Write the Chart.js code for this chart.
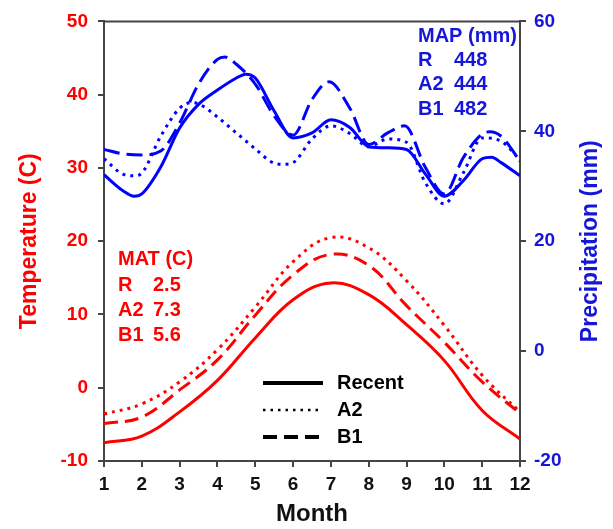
<!DOCTYPE html>
<html>
<head>
<meta charset="utf-8">
<script src="https://cdn.jsdelivr.net/npm/chart.js@4.4.0/dist/chart.umd.min.js"></script>
<style>
  html, body { margin: 0; padding: 0; background: #fff; }
</style>
</head>
<body>
<canvas id="climateChart" width="613" height="529"></canvas>
<script>
// temperature (C), monthly
const tempMonths = [1, 2, 3, 4, 5, 6, 7, 8, 9, 10, 11, 12];
const tempRecent = [-7.5, -6.6, -3.3, 1.0, 6.8, 12.0, 14.3, 12.7, 8.6, 3.7, -3.1, -7.0];
const tempA2 = [-3.6, -2.2, 0.8, 5.2, 11.0, 17.2, 20.5, 19.1, 14.6, 8.5, 1.7, -3.3];
const tempB1 = [-4.9, -4.0, -0.3, 3.8, 9.9, 15.4, 18.2, 16.7, 11.2, 6.2, 0.8, -3.5];

// precipitation (mm)
const precipMonthsRecent = [1, 1.5, 1.8, 2, 2.5, 3, 3.5, 4, 4.5, 4.75, 5, 5.5, 6, 6.5, 7, 7.5, 8, 8.5, 9, 9.5, 10, 10.5, 11, 11.25, 11.5, 12];
const precipRecent = [32.1, 29.2, 28.2, 28.6, 33.5, 40.6, 44.9, 47.5, 49.7, 50.4, 49.7, 43.7, 38.8, 39.7, 42.1, 40.7, 37.2, 37.0, 36.7, 32.2, 28.2, 31.0, 35.0, 35.3, 34.3, 31.9];
const precipMonthsA2 = [1, 1.5, 1.8, 2, 2.5, 3, 3.3, 3.5, 4, 4.5, 5, 5.5, 5.75, 6, 6.5, 7, 7.5, 8, 8.5, 9, 9.5, 10, 10.5, 11, 11.5, 12];
const precipA2 = [35.0, 32.2, 31.9, 32.4, 39.1, 44.2, 45.2, 45.0, 42.6, 39.7, 36.8, 34.2, 34.0, 34.3, 38.6, 41.0, 39.6, 37.2, 38.6, 38.0, 30.6, 26.8, 32.4, 38.8, 38.2, 34.8];
const precipMonthsB1 = [1, 1.5, 2, 2.5, 3, 3.5, 4, 4.2, 4.5, 5, 5.5, 6, 6.5, 6.95, 7.5, 8, 8.5, 8.95, 9.5, 10, 10.5, 11, 11.2, 11.5, 12];
const precipB1 = [36.7, 35.9, 35.7, 36.4, 41.5, 48.6, 53.1, 53.5, 52.2, 48.6, 42.8, 39.3, 45.8, 49.0, 44.2, 37.6, 39.7, 41.0, 33.4, 28.6, 35.2, 39.5, 39.9, 39.1, 34.6];

const scenarios = ['R', 'A2', 'B1'];
const matValues = ['2.5', '7.3', '5.6'];
const mapValues = ['448', '444', '482'];
const legendLabels = ['Recent', 'A2', 'B1'];

const RED = '#ff0000';
const BLUE = '#0000ff';
const BLUE_TEXT = '#1616d8';
const AXIS = '#444';
const FONT = "'Liberation Sans', Arial, sans-serif";

const pts = (xs, ys) => xs.map((x, i) => ({ x: x, y: ys[i] }));

function line(label, data, color, axis, dash, smoothMode) {
    return {
        label: label,
        data: data,
        yAxisID: axis,
        borderColor: color,
        borderWidth: 3,
        borderDash: dash,
        pointRadius: 0,
        fill: false,
        tension: 0.4,
        cubicInterpolationMode: smoothMode
    };
}

// frame top line, right axis title, text blocks and the black legend
const extras = {
    id: 'extras',
    afterDraw(chart) {
        const c = chart.ctx;
        const a = chart.chartArea;
        c.save();
        c.strokeStyle = AXIS;
        c.lineWidth = 2;
        c.beginPath();
        c.moveTo(a.left, a.top);
        c.lineTo(a.right, a.top);
        c.stroke();

        // right title reads bottom to top, like the left one
        c.save();
        c.translate(591, (a.top + a.bottom) / 2);
        c.rotate(-Math.PI / 2);
        c.font = 'bold 23px ' + FONT;
        c.fillStyle = BLUE_TEXT;
        c.textAlign = 'center';
        c.textBaseline = 'middle';
        c.fillText('Precipitation (mm)', 0, 0);
        c.restore();

        c.font = 'bold 20px ' + FONT;
        c.textBaseline = 'middle';
        c.textAlign = 'left';
        // MAT block
        c.fillStyle = RED;
        c.fillText('MAT (C)', a.left + 14, 259);
        scenarios.forEach((s, i) => {
            c.fillText(s, a.left + 14, 285 + i * 25);
            c.fillText(matValues[i], a.left + 49, 285 + i * 25);
        });
        // MAP block
        c.fillStyle = BLUE_TEXT;
        c.fillText('MAP (mm)', 418, 36);
        scenarios.forEach((s, i) => {
            c.fillText(s, 418, 60 + i * 24.5);
            c.fillText(mapValues[i], 454, 60 + i * 24.5);
        });
        // legend
        const legDash = [[], [2.5, 5], [14, 7]];
        const legWidth = [4, 2.5, 4];
        legendLabels.forEach((lab, i) => {
            const y = 383 + i * 27;
            c.strokeStyle = '#000';
            c.lineWidth = legWidth[i];
            c.setLineDash(legDash[i]);
            c.beginPath();
            c.moveTo(263, y);
            c.lineTo(323, y);
            c.stroke();
            c.setLineDash([]);
            c.fillStyle = '#000';
            c.fillText(lab, 337, y);
        });
        c.restore();
    }
};

const ctx = document.getElementById('climateChart');
new Chart(ctx, {
    type: 'line',
    data: {
        datasets: [
            line('Recent', pts(tempMonths, tempRecent), RED, 'y', [], 'default'),
            line('A2', pts(tempMonths, tempA2), RED, 'y', [3, 5], 'default'),
            line('B1', pts(tempMonths, tempB1), RED, 'y', [14, 7], 'default'),
            line('Recent P', pts(precipMonthsRecent, precipRecent), BLUE, 'y1', [], 'monotone'),
            line('A2 P', pts(precipMonthsA2, precipA2), BLUE, 'y1', [3, 5], 'monotone'),
            line('B1 P', pts(precipMonthsB1, precipB1), BLUE, 'y1', [16, 7], 'monotone')
        ]
    },
    options: {
        responsive: false,
        animation: false,
        devicePixelRatio: 1,
        layout: { padding: { top: 20, left: 0, right: 0, bottom: 0 } },
        plugins: { legend: { display: false }, tooltip: { enabled: false } },
        scales: {
            x: {
                type: 'linear',
                min: 1,
                max: 12,
                ticks: { stepSize: 1, color: '#111', font: { family: FONT, size: 19, weight: 'bold' }, padding: 6 },
                grid: { drawOnChartArea: false, tickLength: 6, color: AXIS, lineWidth: 2 },
                border: { color: AXIS, width: 2 },
                title: { display: true, text: 'Month', color: '#111', font: { family: FONT, size: 24, weight: 'bold' }, padding: { top: 0, bottom: 0 } },
                afterFit: (s) => { s.height = 68; }
            },
            y: {
                position: 'left',
                min: -10,
                max: 50,
                ticks: { stepSize: 10, color: RED, font: { family: FONT, size: 19, weight: 'bold' }, padding: 10 },
                grid: { drawOnChartArea: false, tickLength: 6, color: AXIS, lineWidth: 2 },
                border: { color: AXIS, width: 2 },
                title: { display: true, text: 'Temperature (C)', color: RED, font: { family: FONT, size: 23, weight: 'bold' }, padding: { top: 16, bottom: 0 } },
                afterFit: (s) => { s.width = 104; }
            },
            y1: {
                position: 'right',
                min: -20,
                max: 60,
                ticks: { stepSize: 20, color: BLUE_TEXT, font: { family: FONT, size: 19, weight: 'bold' }, padding: 8 },
                grid: { drawOnChartArea: false, tickLength: 6, color: AXIS, lineWidth: 2 },
                border: { color: AXIS, width: 2 },
                title: { display: false, text: 'Precipitation (mm)' },
                afterFit: (s) => { s.width = 93; }
            }
        }
    },
    plugins: [extras]
});
</script>
</body>
</html>
